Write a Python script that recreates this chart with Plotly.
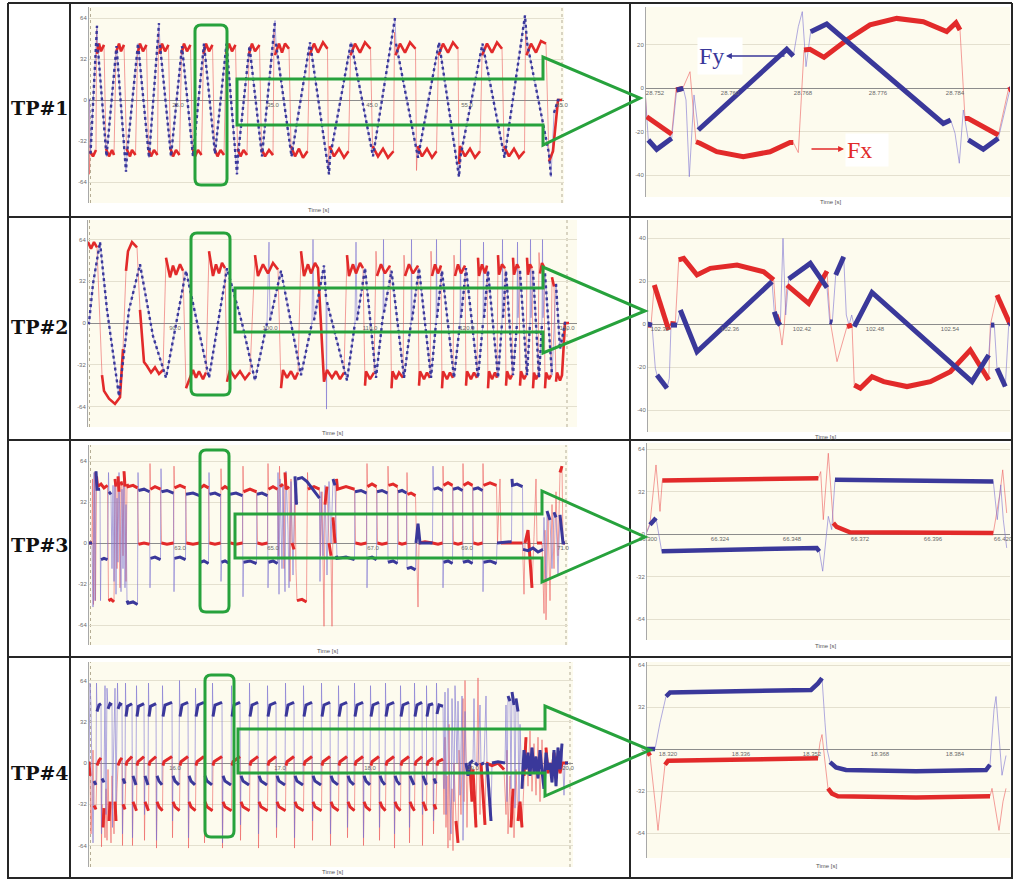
import plotly.graph_objects as go

W, H = 1013, 879

# ------------------------------------------------------------------
# DATA  (x = time offset in plot-units, y = force)
# ------------------------------------------------------------------
# TP#1 overview
tp1L_red = [(0,0),(1,0),(1.5,-58),(2,-40),(5,-44),(8,-39),(8.5,55),(9,36),(11,44),(13,38),(16,43),
    (18,-38),(21,-44),(24,-39),(26,-43),(28,37),(31,44),(33,38),(36,43),
    (38.5,-38),(42,-44),(44,-39),(47.5,-43),(49.5,36),(52,44),(55,38),(58.5,43),
    (60.5,-38),(63,-44),(66,-39),(69.5,-43),(70.5,53),(71.5,36),(74,44),(77,38),(80.5,43),
    (82.5,-38),(85,-44),(88,-39),(91.5,-43),(93.5,36),(96,44),(99,38),(102.5,43),
    (104.5,-38),(107,-44),(110,-39),(113.5,-43),(115.5,36),(118,44),(121,38),(124.5,43),
    (126.5,-38),(129.5,-44),(132.5,-39),(136,-43),(138,36),(141,44),(144,38),(147.5,43),
    (149.5,-38),(152.5,-44),(155.5,-39),(159,-43),(161,36),(164,44),(167,38),(171.5,43),
    (173.5,-38),(177,-44),(181,-39),(185,-43),(186,53),(187,35),(191,44),(194,37),(197,44),(201,40),
    (203,-36),(207,-44),(211,-38),(215,-45),(219.5,-40),(221.5,35),(226,44),(230,37),(235,45),(239.5,40),
    (240.5,-55),(241.5,-36),(246,-44),(251,-38),(256,-45),(260.5,-40),(262.5,35),(267,44),(272,37),(277,45),(282.5,40),
    (284.5,-36),(290,-44),(295,-38),(300,-45),(305.5,-40),(306.5,53),(307.5,35),(312,44),(317,37),(322,45),(327.5,40),
    (328.5,-55),(329.5,-36),(334,-44),(339,-38),(344,-45),(348.5,-40),(350.5,35),(355,44),(360,37),(365,45),(370,40),
    (371,-50),(372,-36),(377,-44),(382,-38),(387,-45),(392,-40),(394,35),(399,44),(404,37),(409,45),(414,40),
    (416,-36),(421,-44),(426,-38),(431,-45),(436.5,-40),(437.5,52),(438.5,35),(443,44),(448,37),(453,46),(458,44),
    (461,-48),(465,-40),(470,0),(474,0)]
tp1L_blue = [(0,0),(1.5,0),(2.5,-42),(9,58),(9.5,44),(18.5,-44),(28.5,42),(38,-56),(39,-42),(50,44),(61,-45),
    (71,60),(72,43),(83,-44),(94,42),(105,-44),(116,44),(127,-42),(138.5,44),(149,-58),(150,-43),(161.5,42),
    (174,-44),(187,62),(188,44),(203.5,-44),(222,45),(241,-58),(242,-45),(263,45),(285,-44),(307,64),(308,44),
    (330,-45),(351,45),(371,-60),(372.5,-44),(394.5,44),(416.5,-45),(437,66),(439,45),(461,-42),(463,-60),
    (466,-10),(470,0),(474,0)]
# TP#1 zoom
tp1R_red = [(0,-0.6),(1.7,-13.2),(26.7,-21.3),(31,-0.9),(37.7,-0.2),(45,7.5),(51,-24.7),(55,-25.4),(71.7,-29.3),
    (98.3,-31.6),(125,-29.3),(145,-25.1),(148.3,-25.1),(153.3,-29.7),(159,17.5),(165,17.8),(179,14.1),(201.7,22.1),
    (225,29),(251.7,32),(278.3,30.5),(301.7,25.9),(311,30),(315,26.7),(320,-14),(323.3,-14),(353.3,-21.6),
    (363.3,-0.9),(368,0)]
tp1R_blue = [(0,-0.6),(3.3,-23.9),(11.7,-28.2),(26.7,-23.1),(31.7,-0.9),(38.3,-0.2),(41,-5.5),(44.3,-40.8),
    (49,-3.2),(53.3,-19.3),(141.7,17.8),(148.3,14.7),(153.3,28.2),(157.3,35.1),(161,9.8),(165.7,25.9),(181.7,29.4),
    (298.3,-16.3),(305.7,-14.7),(310,-20.8),(314.3,-34.6),(318.3,-10.1),(323.3,-23.9),(338.3,-28.2),(353.3,-23.1),
    (365,-0.6),(368,0)]

# TP#2 overview
tp2L_red = [(0,60),(1,62),(4,57),(7,62),(10,58),(12,20),(15,-40),(17,-52),(22,-58),(28,-62),(33,-57),
    (36,-20),(39,40),(41,55),(45,62),(50,58),(53,10),(57,-30),(60,-33),(64,-38),(68,-34),(72,-39),(76,-36),
    (79,50),(83,35),(86,44),(89,37),(93,45),(96,40),(99,-50),(106,-36),(109,-42),(112,-37),(116,-43),(119,-38),
    (122,55),(126,36),(129,45),(132,38),(135,46),(138,42),(140,-45),(143,-36),(148,-42),(153,-37),(158,-43),(163,-38),
    (168,52),(171,36),(176,45),(181,38),(186,46),(191,41),(194,-50),(196,-36),(200,-42),(204,-37),(208,-43),(211,-38),
    (214,55),(217,36),(221,45),(224,38),(228,46),(231,42),(237,-45),(240,-36),(245,-42),(249,-37),(253,-43),(257,-38),
    (260,52),(262,36),(266,45),(269,38),(273,46),(276,42),(278,-48),(279,-37),(283,-43),(287,-38),
    (289,55),(290,36),(294,45),(298,38),(303,44),(304.5,-50),(305.5,-37),(309,-43),(312,-38),(316,-42),
    (317,52),(318,36),(322,45),(326,38),(331,44),(332,-48),(333,-37),(337,-43),(340,-38),(343,-42),
    (344,55),(345,36),(348,45),(351,38),(354,44),(355,-50),(356,-37),(360,-43),(363,-38),(366,-42),
    (367,52),(368,36),(371,45),(374,38),(378,44),(379,-48),(380,-37),(384,-43),(387,-38),(390,-42),
    (391,50),(392,36),(395,45),(398,38),(400,44),(401,-50),(402,-37),(405,-43),(408,-38),(410,-42),
    (411,52),(412,37),(415,45),(418,42),(419,-48),(420,-37),(423,-43),(425,-40),
    (426,50),(427,37),(430,45),(432,42),(433,-48),(434,-37),(437,-43),(439,-40),
    (440,50),(441,37),(443,45),(445,42),(446,-50),(447,-38),(449,-43),(451,-40),
    (452,54),(453,38),(455,46),(457,43),(458,-50),(459,-38),(462,-43),(464,-40),
    (465,35),(466,30),(467,28),(469,-45),(470,-38),(473,-44),(475,-40),(478,0),(482,0)]
tp2L_blue = [(0,0),(2,0),(6,30),(13,62),(20,10),(32,-56),(42,10),(53,45),(66,-10),(79,-42),(99,40),(110,0),
    (122,-42),(140,42),(155,0),(168,-44),(180,0),(182,62),(183,2),(194,40),(214,-40),(225,0),(226,64),(227,2),
    (237,44),(239,20),(239.5,-66),(240,16),(260,-44),(268,0),(269,62),(270,2),(278,42),(289,-42),(296,6),(296.5,64),
    (297,8),(304.5,40),(317,-42),(324,0),(324.5,64),(325,2),(332,42),(344,-42),(349,0),(349.5,64),(350,4),(355,40),
    (367,-42),(373,0),(373.5,64),(374,4),(379,42),(391,-42),(396,0),(396.5,62),(397,4),(401,40),(411,-42),(415,0),
    (415.5,64),(416,4),(419,40),(426,-40),(430,0),(430.5,62),(431,4),(433,40),(440,-40),(443,0),(443.5,64),(444,4),
    (446,40),(452,-42),(455,0),(455.5,64),(456,4),(458,38),(465,-40),(469,30),(473,-20),(478,0),(482,0)]
# TP#2 zoom
tp2R_red = [(0,-0.5),(4,-0.5),(7.3,18.1),(21.7,-2.8),(23.3,0.3),(28.3,0),(31.7,29.8),(36.7,30.5),(50,22.8),
    (63.3,25.9),(90,27.4),(116.7,24.3),(126.7,20.5),(129,4.2),(131.7,0.8),(135,-9.8),(137.3,-0.5),(140,18.1),
    (161.7,9.6),(180,24.6),(183.3,1.1),(190,-17.5),(200,-1.2),(205,-0.5),(207.3,-28.4),(213.3,-29.9),(225,-24.5),
    (236.7,-26.8),(260,-29.1),(283.3,-26.8),(303.3,-22.2),(323.3,-12.1),(341.7,-26),(343.3,-0.5),(350,13.5),
    (361.7,0.3),(363,0)]
tp2R_blue = [(0,0),(5,-0.5),(8.3,-20.6),(10,-23.7),(20,-29.9),(22.3,-25.3),(24,-0.5),(30,-0.5),(33.3,6.5),
    (50,-12.9),(125,19.7),(127.3,5.7),(130.7,0.8),(133.3,-0.5),(136,39.8),(138.7,4.2),(141.7,20.9),(163.3,28.2),
    (180,16.9),(182.7,1.1),(185.3,0.8),(188.7,22.8),(196.7,31.3),(199.3,4.2),(202,-0.5),(204.7,4.2),(207.3,-1.2),
    (225,14.7),(325,-26.8),(341.7,-14.4),(344,-0.5),(347.3,-0.5),(350,-20.6),(358.3,-29.1),(361.7,-0.5),(363,0)]

# TP#3 overview
tp3L_red = [(0,0),(4,0),(4.5,50),(5.5,-48),(6.5,55),(7.5,-45),(8.5,52),(9.5,44),(13,46),(16,43),(19.5,45),
    (20.5,-45),(23,-44),(26,-46),(27,50),(28,44),(29,-20),(30,52),(31,40),(32,-35),(33,48),(34,45),(35,-10),
    (36,56),(37,44),(38,-30),(39,46),(40,44),(45,45),(49.5,43),(50.5,-1),(56,0),(61.5,-1),
    (62,62),(62.5,42),(67,44),(72.5,42),(73.5,0),(79,-1),(85.5,0),(86,60),(86.5,43),(92,45),(97.5,43),
    (98.5,0),(105,-1),(111.5,0),(112,62),(112.5,43),(116,45),(120.5,43),(121.5,0),(127,-1),(132.5,0),
    (133,58),(133.5,42),(137,44),(141.5,42),(142.5,0),(148,-1),(154.5,0),(155,60),(155.5,40),(162,42),(168.5,40),
    (169.5,0),(174,-1),(179.5,0),(180,62),(180.5,42),(185,44),(189.5,42),
    (190.5,-10),(191.5,60),(192,44),(195,46),(196,-20),(197,55),(198,42),(201,44),(202,-30),(203,50),(204,0),
    (206,-5),(207,45),(208,-20),(209,-45),(214,-44),(218.5,-46),(219.5,55),(220,42),(226,44),(231.5,42),
    (232.5,-10),(234,40),(236,-65),(237,30),(239,44),(241,0),(243,-10),(244,-65),(245,20),(247,0),(248.5,50),
    (249.5,42),(258,44),(266.5,42),(267.5,0),(273,-1),(278.5,0),(279,62),(279.5,44),(284,46),(288.5,44),
    (289.5,0),(294,-1),(299.5,0),(300,60),(300.5,45),(305,46),(309.5,44),(310.5,0),(314,-1),(318.5,0),
    (319,55),(319.5,38),(323,39),(327.5,37),(328.5,0),(330,-50),(331,0),(337,1),(344.5,0),(350,-1),(354.5,0),
    (355,60),(355.5,45),(360,47),(364.5,45),(365.5,0),(370,-1),(374.5,0),(375,62),(375.5,45),(380,47),(384.5,45),
    (385.5,0),(390,-1),(394.5,0),(395,62),(395.5,45),(402,47),(408.5,45),(409.5,0),(412,50),(413,0),(423.5,0),
    (434.5,0),(436,-40),(437,0),(440,10),(444,-35),(446,5),(448,50),(449,0),(454,0),(456,-55),(457,10),
    (458,-60),(460,20),(462,-45),(464,30),(466,-20),(468,40),(470,-10),(472,55),(474,60),(475,0),(477,0)]
tp3L_blue = [(0,0),(4,0),(5,-50),(6,55),(7,-45),(8,56),(9,42),(12,42),(12.5,-45),(13,-13),(16,-12),(19.5,-13),
    (20.5,55),(21,40),(23,38),(24,-20),(25,45),(26,-30),(27,50),(28,-40),(29,35),(30,-15),(31,55),(32,20),
    (33,-38),(34,42),(35,-20),(36,50),(37,-35),(38,30),(39,-45),(40,-47),(45,-46),(49.5,-48),
    (50,55),(50.5,41),(56,42),(61.5,40),(62,-35),(62.5,-12),(67,-11),(72.5,-13),(73,58),(73.5,40),(79,41),(85.5,39),
    (86,-38),(86.5,-12),(92,-11),(97.5,-13),(98,38),(105,39),(111.5,37),(112,-40),(112.5,-15),(116,-14),(120.5,-16),
    (121,55),(121.5,38),(127,39),(132.5,37),(133,-30),(133.5,-15),(137,-14),(141.5,-16),(142,38),(148,39),(154.5,37),
    (155,-42),(155.5,-15),(162,-14),(168.5,-16),(169,38),(174,39),(179.5,37),(180,-35),(180.5,-15),(185,-14),(189.5,-16),
    (190,55),(191,-40),(192,50),(194,-20),(195,45),(197,-38),(198,56),(200,10),(201,-35),(203,48),(205,-25),
    (207,52),(208.5,30),(209,50),(214,51),(219,48),(225,42),(231.5,35),(232,-30),(233,40),(235,-10),(237,45),
    (239,-25),(241,48),(243,0),(245,50),(247,45),(248.5,-10),(249,-12),(258,-11),(266.5,-13),(267,40),(273,41),
    (278.5,39),(279,-35),(279.5,-12),(284,-11),(288.5,-13),(289,40),(294,41),(299.5,39),(300,-15),(305,-14),
    (309.5,-16),(310,40),(314,41),(318.5,39),(319,-20),(323,-19),(327.5,-21),(328,0),(330,15),(332,0),(344.5,0),
    (345,60),(345.5,42),(350,43),(354.5,41),(355,-35),(355.5,-15),(360,-14),(364.5,-16),(365,42),(370,43),(374.5,41),
    (375,-15),(380,-14),(384.5,-16),(385,42),(390,43),(394.5,41),(395,-38),(395.5,-15),(402,-14),(408.5,-16),
    (409,0),(423.5,1),(424,50),(424.5,45),(429,46),(434.5,44),(435,-5),(440,-6),(445,-4),(450,-7),(455,-5),
    (456,20),(458,-30),(459,25),(462,18),(464,-20),(466,24),(468,20),(470,-25),(472,22),(474,10),(475,0),(477,0)]
# TP#3 zoom
tp3R_red = [(0,0),(4,8.3),(10,52),(14,17),(16.3,40.3),(84,41.3),(172.3,42),(174.7,47),(177.3,10.8),(182.3,60.8),
    (187.3,8.3),(190.7,5.3),(204,1.3),(347.3,0.8),(354,30.8),(356.7,48.3),(360.7,15.8)]
tp3R_blue = [(0,0),(4,7),(10,12),(13.3,-4.3),(15.7,-13),(84,-11.8),(170.7,-10.5),(173.3,-13),(176.7,-28),
    (182.3,13.3),(185.7,3.3),(189,40.8),(347.3,39.5),(351.3,10.8),(354.7,37),(357.3,10.8),(360.7,-10.5)]

# TP#4 overview
tp4L_blue = [(0,0),(1,0),(2,62),(3,45),(4,-15),(5,-62),(6,-14),(8,-17),(8.5,62),(9,40),(11,45),(13,46),(13.5,-55),
    (14,-12),(16,-15),(17,60),(18,-40),(19,58),(20,42),(22,46),(24,45),(24.5,-50),(25,-12),(27,58),(28,-30),
    (29.5,62),(30,42),(32,46),(34,45),(34.5,-55),(35,-12),(37,-16),
    (37.5,62),(38,36),(39.5,44),(44,46),(44.5,-58),(45,-10),(46.5,-14),(48,-17),
    (48.5,60),(49,36),(50.5,44),(56,46),(56.5,-40),(57,-10),(58.5,-14),(60,-17),
    (60.5,62),(61,36),(62.5,44),(68,46),(68.5,-60),(69,-10),(71,-14),(74,-17),
    (74.5,60),(75,36),(77,45),(84,47),(84.5,-45),(85,-10),(87,-14),(91,-17),
    (91.5,64),(92,36),(94,45),(100,47),(100.5,-58),(101,-10),(103,-14),(107,-17),
    (107.5,58),(108,36),(110,45),(116,47),(116.5,-50),(117,-10),(119,-14),(124,-17),
    (124.5,62),(125,36),(127,45),(134,47),(134.5,-62),(135,-10),(137,-14),(143,-17),
    (143.5,60),(144,36),(146,45),(152,47),(152.5,-48),(153,-10),(155,-14),(161,-17),
    (161.5,62),(162,36),(164,45),(170,47),(170.5,-55),(171,-10),(173,-14),(179,-17),
    (179.5,60),(180,36),(182,45),(188,47),(188.5,-50),(189,-10),(191,-14),(197,-17),
    (197.5,62),(198,36),(200,45),(206,47),(206.5,-58),(207,-10),(209,-14),(215,-17),
    (215.5,60),(216,36),(218,45),(224,47),(224.5,-45),(225,-10),(227,-14),(233,-17),
    (233.5,62),(234,36),(236,45),(242,47),(242.5,-55),(243,-10),(245,-14),(250,-17),
    (250.5,60),(251,36),(253,45),(259,47),(259.5,-50),(260,-10),(262,-14),(266,-17),
    (266.5,62),(267,36),(269,45),(275,47),(275.5,-58),(276,-10),(278,-14),(282,-17),
    (282.5,60),(283,36),(285,45),(291,47),(291.5,-50),(292,-10),(294,-14),(297,-17),
    (297.5,62),(298,36),(300,45),(306,47),(306.5,-55),(307,-10),(309,-14),(312,-17),
    (312.5,60),(313,36),(315,45),(321,47),(321.5,-50),(322,-10),(324,-14),(326,-17),
    (326.5,62),(327,36),(329,45),(334,47),(334.5,-40),(335,-10),(337,-15),(338.5,-17),
    (338.5,60),(339,36),(341,45),(345,46),(345.5,-45),(346,-12),(348,-16),
    (348.5,62),(349,38),(351,45),(355,44),
    (356,-20),(357,55),(358,-40),(360,58),(361,10),(363,-55),(364,50),(366,-30),(367,60),(369,0),(370,48),
    (372,-25),(374,52),(375,-60),(377,40),(378,0),(380,-10),(382,0),(385,2),(386,50),(387,0),(390,-2),(392,45),
    (393,-1),(396,0),(398,52),(399,0),(403,-45),(404,0),(410,1),(417,0),(418,45),(419,-30),(420,52),(422,48),
    (423,-20),(424,55),(426,45),(427,-35),(428,50),(430,40),(431,-45),(432,30),(434,-20),(436,10),(438,-5),
    (440,8),(442,-10),(444,12),(446,-8),(448,5),(450,-12),(452,10),(454,-6),(456,-20),(458,8),(460,-5),(462,0),
    (464,-15),(466,10),(468,-18),(470,12),(472,-5),(474,15),(476,-25),(477,0),(480,0)]
tp4L_red = [(0,0),(1,0),(2,-10),(3,-55),(4,-30),(5,10),(6,-33),(8,-36),(9,-2),(11,2),(13,4),(13.5,-65),(14,-32),
    (15,-50),(16,-35),(17,-58),(18,-20),(19,-60),(20,-5),(21,-45),(22,-30),(23,-62),(24,-10),(25,-36),(26,-55),
    (27,-30),(28,-45),(29,-20),(30,-2),(32,2),(34,4),(34.5,-64),(35,-32),(37,-36),
    (38,-2),(39,1),(44,5),(44.5,-64),(45,-30),(47,-34),(48.5,-37),
    (49,-2),(50,1),(56,5),(56.5,-60),(57,-30),(59,-34),(60.5,-37),
    (61,-2),(62,1),(68,5),(68.5,-66),(69,-30),(71,-34),(74.5,-37),
    (75,-2),(76,1),(84,5),(84.5,-58),(85,-30),(87,-34),(91.5,-37),
    (92,-2),(93,1),(100,5),(100.5,-66),(101,-30),(103,-34),(107.5,-37),
    (108,-2),(109,1),(116,5),(116.5,-62),(117,-30),(119,-34),(124.5,-37),
    (125,-2),(126,1),(134,5),(134.5,-66),(135,-30),(137,-34),(143.5,-37),
    (144,-2),(145,1),(152,5),(152.5,-60),(153,-30),(155,-34),(161.5,-37),
    (162,-2),(163,1),(170,5),(170.5,-66),(171,-30),(173,-34),(179.5,-37),
    (180,-2),(181,1),(188,5),(188.5,-58),(189,-30),(191,-34),(197.5,-37),
    (198,-2),(199,1),(206,5),(206.5,-66),(207,-30),(209,-34),(215.5,-37),
    (216,-2),(217,1),(224,5),(224.5,-60),(225,-30),(227,-34),(233.5,-37),
    (234,-2),(235,1),(242,5),(242.5,-64),(243,-30),(245,-34),(250.5,-37),
    (251,-2),(252,1),(259,5),(259.5,-58),(260,-30),(262,-34),(266.5,-37),
    (267,-2),(268,1),(275,5),(275.5,-64),(276,-30),(278,-34),(282.5,-37),
    (283,-2),(284,1),(291,5),(291.5,-60),(292,-30),(294,-34),(297.5,-37),
    (298,-2),(299,1),(306,5),(306.5,-66),(307,-30),(309,-34),(312.5,-37),
    (313,-2),(314,1),(321,5),(321.5,-62),(322,-30),(324,-34),(326.5,-37),
    (327,-2),(328,1),(334,5),(334.5,-64),(335,-30),(337,-35),(338.5,-37),
    (339,-2),(340,1),(345,4),(345.5,-55),(346,-32),(348,-36),(349,-2),(350,1),(355,3),
    (356,-40),(357,20),(358,-50),(359,-10),(360,-66),(361,30),(362,-60),(364,-20),(365,-68),(366,0),(368,-45),
    (370,-62),(371,10),(373,-40),(375,50),(376,-30),(377,64),(378,-20),(379,-50),(380,-5),(382,-2),(384,-30),
    (385,-5),(388,-50),(389,-2),(390,66),(391,0),(392,-40),(393,0),(397,-48),(398,0),(404,-2),(410,0),(416,-5),
    (418,-40),(419,10),(420,-55),(422,-10),(423,-50),(425,-20),(426,-58),(428,-5),(430,-45),(432,-30),(434,-50),
    (436,-10),(438,20),(440,-18),(442,25),(444,-22),(446,15),(448,-25),(450,20),(452,-30),(454,18),(456,-20),
    (458,12),(460,-8),(462,0),(464,-10),(466,8),(468,-12),(470,5),(472,-8),(474,0),(477,0),(480,0)]
# TP#4 zoom
tp4R_blue = [(0,0),(9,0),(14,20),(20,40),(24,43),(90,44),(165,45),(172,50),(176,54),(179,20),(181,0),(184,-10),
    (190,-14),(200,-16),(270,-17),(340,-16),(344,-12),(348,30),(350,40),(353,10),(356,-20),(360,-5)]
tp4R_red = [(0,0),(4,-5),(9,-40),(12,-62),(15,-40),(19,-12),(22,-9),(100,-8),(172,-7),(174,5),(176,11),(179,-10),
    (182,-30),(186,-34),(192,-36),(270,-37),(344,-36),(346,-30),(350,-50),(353,-62),(357,-40),(360,-30)]

# tick labels
row_labels = ["TP#1", "TP#2", "TP#3", "TP#4"]
y64_vals = [-64, -32, 0, 32, 64]
y64_text = ["-64", "-32", "0", "32", "64"]
y40_vals = [-40, -20, 0, 20, 40]
y40_text = ["-40", "-20", "0", "20", "40"]
tp1L_xt = [90, 185, 284, 379, 474];      tp1L_xl = ["25.0", "35.0", "45.0", "55.0", "65.0"]
tp2L_xt = [88, 183, 283, 380, 480];      tp2L_xl = ["90.0", "100.0", "110.0", "120.0", "130.0"]
tp3L_xt = [92, 185, 285, 379, 475];      tp3L_xl = ["63.0", "65.0", "67.0", "69.0", "71.0"]
tp4L_xt = [87, 192, 282, 385, 480];      tp4L_xl = ["16.0", "17.0", "18.0", "19.0", "20.0"]
tp1R_xt = [10, 85, 158, 233, 310];       tp1R_xl = ["28.752", "28.760", "28.768", "28.776", "28.784"]
tp2R_xt = [13, 83, 155, 228, 303];       tp2R_xl = ["102.30", "102.36", "102.42", "102.48", "102.54"]
tp3R_xt = [2, 74, 146, 214, 287, 357];   tp3R_xl = ["66.300", "66.324", "66.348", "66.372", "66.396", "66.420"]
tp4R_xt = [22, 95, 166, 234, 309];       tp4R_xl = ["18.320", "18.336", "18.352", "18.368", "18.384"]

# ------------------------------------------------------------------
RED, RED_T = "#E22A2A", "rgba(236,95,95,0.6)"
BLUE, BLUE_T = "#3A389A", "rgba(125,115,210,0.6)"
GREEN = "#27A23C"

def thick_path(pts, ppy, thr):
    xs, ys, prev = [], [], False
    for (x0, y0), (x1, y1) in zip(pts[:-1], pts[1:]):
        dx = x1 - x0
        ok = dx > 0 and abs((y1 - y0) * ppy / dx) < thr
        if ok:
            if not prev:
                if xs:
                    xs.append(None); ys.append(None)
                xs.append(x0); ys.append(y0)
            xs.append(x1); ys.append(y1)
        prev = ok
    return xs, ys

panels = [
    dict(red=tp1L_red, blue=tp1L_blue, box=(88, 7, 564, 203), zero=100, ppy=41/32, yv=y64_vals, yt=y64_text,
         xt=tp1L_xt, xl=tp1L_xl, thr=20, wr=2.6, wb=2.4, dash="dot", end=474, time=(318, 210)),
    dict(red=tp1R_red, blue=tp1R_blue, box=(645, 7, 1010, 197), zero=88, ppy=43.5/20, yv=y40_vals, yt=y40_text,
         xt=tp1R_xt, xl=tp1R_xl, thr=2, wr=5, wb=5, dash="solid", end=None, time=(830, 202)),
    dict(red=tp2L_red, blue=tp2L_blue, box=(87, 220, 577, 427), zero=323, ppy=41.75/32, yv=y64_vals, yt=y64_text,
         xt=tp2L_xt, xl=tp2L_xl, thr=20, wr=2.6, wb=2.4, dash="dot", end=480, time=(332, 433)),
    dict(red=tp2R_red, blue=tp2R_blue, box=(647, 220, 1010, 432), zero=324, ppy=43/20, yv=y40_vals, yt=y40_text,
         xt=tp2R_xt, xl=tp2R_xl, thr=3.3, wr=5, wb=5, dash="solid", end=None, time=(825, 437)),
    dict(red=tp3L_red, blue=tp3L_blue, box=(88, 445, 568, 645), zero=543, ppy=41/32, yv=y64_vals, yt=y64_text,
         xt=tp3L_xt, xl=tp3L_xl, thr=20, wr=3, wb=3, dash="solid", end=478, time=(327, 651)),
    dict(red=tp3R_red, blue=tp3R_blue, box=(646, 443, 1010, 640), zero=534, ppy=42.5/32, yv=y64_vals, yt=y64_text,
         xt=tp3R_xt, xl=tp3R_xl, thr=2, wr=4.5, wb=4.5, dash="solid", end=None, time=(825, 646)),
    dict(red=tp4L_red, blue=tp4L_blue, box=(88, 662, 573, 867), zero=763, ppy=41.25/32, yv=y64_vals, yt=y64_text,
         xt=tp4L_xt, xl=tp4L_xl, thr=20, wr=3, wb=3, dash="solid", end=482, time=(332, 872)),
    dict(red=tp4R_red, blue=tp4R_blue, box=(646, 662, 1010, 858), zero=749, ppy=42/32, yv=y64_vals, yt=y64_text,
         xt=tp4R_xt, xl=tp4R_xl, thr=2, wr=4.5, wb=4.5, dash="solid", end=None, time=(826, 866)),
]

fig = go.Figure()
shapes, annotations = [], []
layout_axes = {}

for i, p in enumerate(panels, start=1):
    xa = "x" if i == 1 else f"x{i}"
    ya = "y" if i == 1 else f"y{i}"
    L, T, R, B = p["box"]
    for pts, col in ((p["red"], RED_T), (p["blue"], BLUE_T)):
        fig.add_trace(go.Scatter(x=[a for a, b in pts], y=[b for a, b in pts], mode="lines",
                                 line=dict(color=col, width=1), xaxis=xa, yaxis=ya,
                                 hoverinfo="skip", showlegend=False))
    tx, ty = thick_path(p["red"], p["ppy"], p["thr"])
    fig.add_trace(go.Scatter(x=tx, y=ty, mode="lines", line=dict(color=RED, width=p["wr"]),
                             xaxis=xa, yaxis=ya, hoverinfo="skip", showlegend=False))
    tx, ty = thick_path(p["blue"], p["ppy"], p["thr"])
    fig.add_trace(go.Scatter(x=tx, y=ty, mode="lines", line=dict(color=BLUE, width=p["wb"], dash=p["dash"]),
                             xaxis=xa, yaxis=ya, hoverinfo="skip", showlegend=False))
    top = (p["zero"] - T) / p["ppy"]
    bot = -(B - p["zero"]) / p["ppy"]
    layout_axes["xaxis" + ("" if i == 1 else str(i))] = dict(
        domain=[L / W, R / W], range=[0, R - L], anchor="free", position=1 - p["zero"] / H,
        showgrid=False, zeroline=False, showline=False, ticks="", tickvals=p["xt"], ticktext=p["xl"],
        tickfont=dict(size=6, color="#6a6a6a", family="Liberation Sans"), automargin=False, fixedrange=True)
    layout_axes["yaxis" + ("" if i == 1 else str(i))] = dict(
        domain=[1 - B / H, 1 - T / H], range=[bot, top], anchor="free", position=L / W,
        tickvals=p["yv"], ticktext=p["yt"], showgrid=True, gridcolor="#E4E0CF", gridwidth=1,
        zeroline=True, zerolinecolor="#8c8c8c", zerolinewidth=1, showline=True, linecolor="#a8a8a8",
        linewidth=1, ticks="", tickfont=dict(size=6, color="#6a6a6a", family="Liberation Sans"),
        automargin=False, fixedrange=True)
    if p["end"] is not None:
        shapes.append(dict(type="line", xref=xa, yref=f"{ya} domain", x0=p["end"], x1=p["end"], y0=0, y1=1,
                           line=dict(color="#b5ad95", width=1, dash="dot"), layer="below"))
        shapes.append(dict(type="line", xref=xa, yref=f"{ya} domain", x0=2.5, x1=2.5, y0=0, y1=1,
                           line=dict(color="#b5ad95", width=1, dash="dot"), layer="below"))
    annotations.append(dict(x=p["time"][0] / W, y=1 - p["time"][1] / H, xref="paper", yref="paper",
                            xanchor="center", yanchor="middle", text="Time [s]", showarrow=False,
                            font=dict(size=6, color="#555", family="Liberation Sans")))

fig.update_layout(**layout_axes)

def px(x):
    return x / W

def py(y):
    return 1 - y / H

# table grid
for x in (8, 70, 630, 1012):
    shapes.append(dict(type="line", xref="paper", yref="paper", x0=px(x), x1=px(x), y0=py(3), y1=py(879),
                       line=dict(color="#262626", width=2)))
for y in (3, 217, 440, 657, 878):
    shapes.append(dict(type="line", xref="paper", yref="paper", x0=px(8), x1=px(1012), y0=py(y), y1=py(y),
                       line=dict(color="#262626", width=2)))

def rrect(x0, y0, x1, y1, r):
    pts = [f"M {px(x0 + r)},{py(y0)}", f"L {px(x1 - r)},{py(y0)}", f"Q {px(x1)},{py(y0)} {px(x1)},{py(y0 + r)}",
           f"L {px(x1)},{py(y1 - r)}", f"Q {px(x1)},{py(y1)} {px(x1 - r)},{py(y1)}", f"L {px(x0 + r)},{py(y1)}",
           f"Q {px(x0)},{py(y1)} {px(x0)},{py(y1 - r)}", f"L {px(x0)},{py(y0 + r)}",
           f"Q {px(x0)},{py(y0)} {px(x0 + r)},{py(y0)}", "Z"]
    return " ".join(pts)

def poly(points):
    return "M " + " L ".join(f"{px(a)},{py(b)}" for a, b in points) + " Z"

green_boxes = [(195, 25, 227, 185), (191, 233, 230, 395), (200, 450, 229, 612), (205, 675, 234, 837)]
green_arrows = [
    [(237, 79), (543, 79), (543, 57), (640, 98), (543, 145), (543, 125), (237, 125)],
    [(235, 288), (543, 288), (543, 267), (645, 311), (543, 353), (543, 332), (235, 332)],
    [(235, 514), (542, 514), (542, 491), (645, 537), (542, 582), (542, 558), (235, 558)],
    [(238, 729), (545, 729), (545, 706), (650, 750), (545, 796), (545, 773), (238, 773)],
]
for b in green_boxes:
    shapes.append(dict(type="path", xref="paper", yref="paper", path=rrect(*b, 6), line=dict(color=GREEN, width=3)))
for a in green_arrows:
    shapes.append(dict(type="path", xref="paper", yref="paper", path=poly(a), line=dict(color=GREEN, width=3)))

# row labels
for lab, yc in zip(row_labels, (108, 327, 545, 773)):
    annotations.append(dict(x=px(39.5), y=py(yc), xref="paper", yref="paper", xanchor="center", yanchor="middle",
                            text=f"<b>{lab}</b>", showarrow=False,
                            font=dict(size=19, color="#111", family="DejaVu Serif")))

# Fy / Fx callouts
annotations.append(dict(x=px(720), y=py(56), xref="paper", yref="paper", text="Fy", showarrow=False,
                        bgcolor="white", width=42, height=34, align="left", xanchor="center", yanchor="middle",
                        font=dict(size=24, color="#3A389A", family="Liberation Serif")))
annotations.append(dict(x=px(726), y=py(56), xref="paper", yref="paper", text="", showarrow=True, ax=60, ay=0,
                        arrowhead=2, arrowsize=0.9, arrowwidth=1.3, arrowcolor="#3A389A"))
annotations.append(dict(x=px(867), y=py(150), xref="paper", yref="paper", text="Fx", showarrow=False,
                        bgcolor="white", width=40, height=30, align="left", xanchor="center", yanchor="middle",
                        font=dict(size=24, color="#E22A2A", family="Liberation Serif")))
annotations.append(dict(x=px(844), y=py(149), xref="paper", yref="paper", text="", showarrow=True, ax=-34, ay=0,
                        arrowhead=2, arrowsize=0.9, arrowwidth=1.3, arrowcolor="#E22A2A"))

fig.update_layout(width=W, height=H, margin=dict(l=0, r=0, t=0, b=0), paper_bgcolor="white",
                  plot_bgcolor="#FDFBEE", showlegend=False, shapes=shapes, annotations=annotations)

fig.write_html("out.html")
